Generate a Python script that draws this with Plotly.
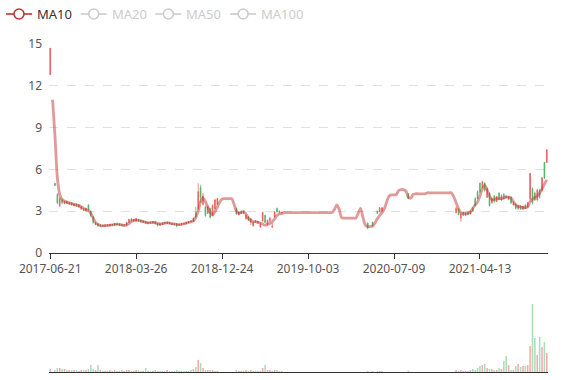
import pandas as pd
import plotly.graph_objects as go

# ---------------- data ----------------
tick_dates = ["2017-06-21", "2018-03-26", "2018-12-24", "2019-10-03", "2020-07-09", "2021-04-13"]

# category axis (trading dates); every tick date is a category
categories = []
for a, b in zip(tick_dates[:-1], tick_dates[1:]):
    categories += [d.strftime("%Y-%m-%d") for d in pd.date_range(a, b, periods=37)[:-1]]
_last = pd.Timestamp(tick_dates[-1])
categories += [(_last + pd.Timedelta(days=7.7) * k).strftime("%Y-%m-%d") for k in range(29)]

open_ = [
    12.8, None, 5.0, 4.2, 3.4, 3.8, 3.55, 3.7, 3.5, 3.6,
    3.4, 3.5, 3.3, 3.15, 3.2, 3.05, 3.45, 3.0, 2.6, 2.05,
    2.1, 1.95, 2.0, 1.92, 2.02, 1.95, 2.05, 2.0, 2.1, 2.0,
    2.05, 1.95, 2.0, 2.2, 2.45, 2.3, 2.3, 2.4, 2.35, 2.2,
    2.25, 2.12, 2.22, 2.15, 2.25, 2.12, 2.0, 2.05, 2.2, 2.12,
    2.2, 2.12, 2.05, 2.1, 2.0, 2.03, 2.12, 2.1, 2.18, 2.3,
    2.25, 2.9, 3.2, 4.7, 3.5, 3.3, 2.85, 3.2, 2.7, 3.2,
    3.5] + [None] * 7 + [
    3.2, 2.75, 3.0, 2.85, 2.45, 2.6, 2.2, 1.95, 2.3, 2.15,
    1.85, 2.3, 2.7, 2.05, 2.3, 1.85, 2.6, 3.2, 3.0, 2.88] + [None] * 35 + [
    2.15, None, 2.2, None, 3.0, 2.95, 3.0] + [None] * 10 + [4.25] + [None] * 19 + [
    2.9, 3.15, 2.5, 2.9, 2.7, 2.9, 2.8, 3.2, 3.9, 4.4,
    5.0, 4.7, 5.0, 4.0, 4.3, 3.6, 4.1, 3.7, 4.3, 3.8,
    4.2, 4.05, 3.85, 4.0, 3.45, 3.5, 3.2, 3.4, 3.15, 3.45,
    3.3, 3.9, 4.6, 4.3, 3.8, 4.5, 4.5, 6.5, 6.5]

high_ = [
    14.7, None, 5.0, 4.3, 4.0, 3.9, 3.75, 3.75, 3.65, 3.6,
    3.55, 3.55, 3.5, 3.35, 3.2, 3.25, 3.5, 3.05, 2.65, 2.2,
    2.1, 2.05, 2.02, 2.03, 2.05, 2.08, 2.08, 2.12, 2.12, 2.1,
    2.08, 2.05, 2.22, 2.45, 2.5, 2.45, 2.5, 2.42, 2.38, 2.32,
    2.28, 2.22, 2.25, 2.28, 2.27, 2.15, 2.12, 2.18, 2.22, 2.23,
    2.22, 2.14, 2.12, 2.12, 2.08, 2.12, 2.15, 2.22, 2.28, 2.32,
    2.55, 3.3, 5.0, 4.9, 4.3, 3.4, 3.4, 3.25, 3.5, 3.9,
    3.95] + [None] * 7 + [
    3.25, 3.0, 3.05, 3.05, 2.75, 2.62, 2.5, 2.25, 2.35, 2.3,
    2.2, 2.97, 2.75, 2.4, 2.6, 2.15, 3.0, 3.25, 3.05, 2.95] + [None] * 35 + [
    2.2, None, 2.22, None, 3.05, 3.28, 3.3] + [None] * 10 + [4.28] + [None] * 19 + [
    3.3, 3.2, 2.9, 2.95, 2.9, 2.95, 3.05, 3.3, 4.0, 4.5,
    5.05, 5.2, 5.1, 4.7, 4.35, 4.0, 4.15, 4.1, 4.35, 4.2,
    4.3, 4.1, 4.1, 4.05, 3.7, 3.55, 3.45, 3.45, 3.4, 3.5,
    3.65, 5.75, 4.7, 4.4, 4.6, 4.6, 5.45, 6.55, 7.45]

low_ = [
    12.8, None, 4.8, 3.5, 3.3, 3.5, 3.5, 3.5, 3.45, 3.4,
    3.35, 3.3, 3.25, 3.1, 3.0, 3.0, 3.05, 2.6, 2.1, 2.0,
    1.9, 1.9, 1.88, 1.9, 1.92, 1.93, 1.97, 1.98, 2.0, 1.98,
    1.95, 1.93, 1.98, 2.15, 2.25, 2.28, 2.25, 2.25, 2.2, 2.18,
    2.1, 2.1, 2.12, 2.13, 2.05, 1.9, 1.97, 2.03, 2.08, 2.1,
    2.08, 2.02, 2.03, 1.85, 1.98, 2.0, 2.05, 2.08, 2.15, 2.22,
    2.25, 2.5, 3.1, 3.6, 3.4, 2.6, 2.8, 2.5, 2.7, 3.1,
    3.45] + [None] * 7 + [
    2.75, 2.7, 2.8, 2.8, 2.4, 2.3, 2.0, 1.9, 2.15, 2.1,
    1.85, 2.25, 2.15, 2.0, 2.2, 1.82, 2.55, 2.9, 2.85, 2.85] + [None] * 35 + [
    1.7, None, 1.9, None, 2.8, 2.93, 2.98] + [None] * 10 + [3.88] + [None] * 19 + [
    2.85, 2.7, 2.25, 2.65, 2.65, 2.7, 2.75, 2.95, 3.35, 3.85,
    4.3, 4.65, 4.4, 3.95, 3.33, 3.55, 3.6, 3.65, 3.8, 3.75,
    3.85, 3.9, 3.8, 3.5, 3.4, 3.15, 3.1, 3.1, 3.1, 3.15,
    3.25, 3.8, 3.5, 3.75, 3.75, 3.9, 4.4, 5.3, 6.45]

close_ = [
    14.7, None, 4.85, 3.6, 3.9, 3.6, 3.7, 3.55, 3.6, 3.45,
    3.5, 3.35, 3.45, 3.3, 3.05, 3.2, 3.1, 2.7, 2.2, 2.15,
    1.95, 2.0, 1.92, 2.0, 1.95, 2.05, 2.0, 2.1, 2.02, 2.08,
    1.97, 2.02, 2.2, 2.4, 2.3, 2.4, 2.45, 2.3, 2.25, 2.3,
    2.15, 2.2, 2.15, 2.25, 2.1, 1.98, 2.1, 2.15, 2.12, 2.2,
    2.1, 2.05, 2.1, 1.95, 2.05, 2.1, 2.08, 2.2, 2.25, 2.25,
    2.5, 2.6, 4.4, 4.0, 4.1, 2.7, 3.3, 2.55, 3.4, 3.8,
    3.9] + [None] * 7 + [
    2.8, 2.95, 2.85, 3.0, 2.7, 2.35, 2.45, 2.2, 2.2, 2.25,
    2.05, 2.9, 2.2, 2.35, 2.5, 1.92, 2.95, 2.95, 2.9, 2.92] + [None] * 35 + [
    1.8, None, 1.95, None, 2.85, 3.25, 3.25] + [None] * 10 + [3.9] + [None] * 19 + [
    3.2, 2.75, 2.8, 2.7, 2.85, 2.75, 3.0, 3.0, 3.4, 3.9,
    4.4, 5.1, 4.5, 4.6, 3.4, 3.9, 3.7, 4.05, 3.85, 4.1,
    3.9, 3.95, 4.05, 3.6, 3.6, 3.2, 3.4, 3.15, 3.35, 3.2,
    3.6, 5.7, 3.6, 3.8, 4.5, 4.0, 5.4, 5.4, 7.4]

volume = [
    3, None, 2, 4, 4, 3, 3, 2, 2, 2,
    2, 2, 1, 2, 2, 2, 3, 7, 3, 2,
    7, 2, 1, 1, 1, 2, 1, 2, 1, 1,
    2, 1, 2, 2, 1, 1, 2, 2, 1, 1,
    4, 1, 1, 1, 2, 1, 1, 1, 1, 2,
    1, 1, 1, 2, 1, 1, 1, 1, 1, 2,
    3, 5, 12, 9, 4, 2, 2, 2, 2, 1,
    1] + [None] * 7 + [
    2, 1, 1, 1, 2, 1, 2, 1, 1, 1,
    1, 4, 7, 2, 2, 1, 2, 2, 1, 1] + [None] * 35 + [
    1, None, 1, None, 1, 1, 1] + [None] * 10 + [1.3] + [None] * 19 + [
    2, 1, 2, 1, 1, 1, 2, 3, 2, 4,
    6, 7, 8, 4, 3, 3, 2, 2, 4, 3,
    11, 16, 7, 2, 2, 6, 8, 5, 6, 6,
    7, 26, 68, 34, 17, 35, 25, 30, 19]

ma10 = [
    None, 11.0, 8.4, 5.4, 4.2, 3.85, 3.72, 3.65, 3.6, 3.55,
    3.5, 3.45, 3.4, 3.32, 3.2, 3.1, 3.05, 2.85, 2.5, 2.2,
    2.05, 1.97, 1.95, 1.96, 1.98, 2.0, 2.02, 2.05, 2.07, 2.05,
    2.02, 1.98, 2.0, 2.1, 2.25, 2.33, 2.37, 2.35, 2.3, 2.25,
    2.2, 2.16, 2.18, 2.2, 2.18, 2.12, 2.08, 2.1, 2.14, 2.17,
    2.15, 2.1, 2.08, 2.05, 2.04, 2.06, 2.1, 2.15, 2.2, 2.24,
    2.32, 2.55, 3.0, 3.7, 3.95, 3.7, 3.3, 2.9, 2.72, 2.95,
    3.3, 3.65, 3.88, 3.9, 3.9, 3.9, 3.9, 3.5, 3.0, 2.85,
    2.9, 2.97, 2.8, 2.5, 2.35, 2.25, 2.25, 2.2, 2.15, 2.08,
    2.0, 2.05, 2.12, 2.25, 2.45, 2.7, 2.8, 2.83, 2.9, 2.9,
    2.9, 2.9, 2.9, 2.9, 2.9, 2.9, 2.9, 2.9, 2.9, 2.9,
    2.9, 2.9, 2.9, 2.9, 2.9, 2.9, 2.9, 2.9, 2.9, 3.1,
    3.45, 3.15, 2.55, 2.5, 2.5, 2.5, 2.5, 2.5, 2.5, 2.85,
    3.2, 2.55, 2.0, 1.9, 1.9, 1.92, 2.15, 2.45, 2.7, 2.9,
    3.2, 3.7, 4.1, 4.17, 4.17, 4.2, 4.5, 4.55, 4.55, 4.45,
    4.0, 3.93, 4.2, 4.25, 4.25, 4.25, 4.25, 4.25, 4.32, 4.32,
    4.32, 4.32, 4.32, 4.32, 4.32, 4.32, 4.32, 4.32, 4.32, 4.05,
    3.6, 3.2, 2.9, 2.85, 2.85, 2.88, 2.95, 3.2, 3.45, 3.65,
    4.1, 4.6, 4.85, 4.55, 4.1, 3.82, 3.85, 3.9, 3.9, 3.9,
    3.95, 4.05, 4.0, 3.95, 3.7, 3.45, 3.35, 3.3, 3.26, 3.25,
    3.3, 3.7, 3.85, 4.0, 4.1, 4.3, 4.6, 4.95, 5.25]

legend_names = ["MA10", "MA20", "MA50", "MA100"]
legend_active = [True, False, False, False]

n = len(categories)
for arr in (open_, high_, low_, close_, volume, ma10):
    assert len(arr) == n, len(arr)

# ---------------- styling ----------------
UP = "#eb5454"
DOWN = "#47b262"
MA_COLOR = "#c23531"
FONT = "Noto Sans"
W, H = 577, 380
ML, MR, MT, MB = 49, 29, 44, 8
PW, PH = W - ML - MR, H - MT - MB


def px_x(p):
    return (p - ML) / PW


def px_y(p):
    return (H - MB - p) / PH


vol_colors = []
for o, c in zip(open_, close_):
    if o is None:
        vol_colors.append("rgba(0,0,0,0)")
    elif c >= o:
        vol_colors.append("rgba(235,84,84,0.5)")
    else:
        vol_colors.append("rgba(71,178,98,0.45)")

fig = go.Figure()

fig.add_trace(go.Candlestick(
    x=categories, open=open_, high=high_, low=low_, close=close_,
    increasing=dict(line=dict(color=UP, width=0.7), fillcolor=UP),
    decreasing=dict(line=dict(color=DOWN, width=0.7), fillcolor=DOWN),
    whiskerwidth=0, showlegend=False, xaxis="x", yaxis="y", hoverinfo="skip"))

fig.add_trace(go.Scatter(
    x=categories, y=ma10, mode="lines", name="MA10",
    line=dict(color="rgba(194,53,49,0.5)", width=2.8, shape="spline", smoothing=0.7),
    showlegend=False, xaxis="x", yaxis="y", hoverinfo="skip"))

fig.add_trace(go.Bar(
    x=categories, y=volume, marker=dict(color=vol_colors, line=dict(width=0)),
    showlegend=False, xaxis="x2", yaxis="y2", hoverinfo="skip"))

# ---------------- legend (drawn as shapes + text) ----------------
shapes = []
annotations = []
LEG_Y = 14
for i, (name, active) in enumerate(zip(legend_names, legend_active)):
    off = i * 74.7
    col = MA_COLOR if active else "#cccccc"
    txt_col = "#333333" if active else "#cccccc"
    cx = 19 + off
    yc = px_y(LEG_Y)
    shapes.append(dict(type="line", xref="paper", yref="paper",
                       x0=px_x(6 + off), x1=px_x(cx - 5), y0=yc, y1=yc,
                       line=dict(color=col, width=1.6)))
    shapes.append(dict(type="line", xref="paper", yref="paper",
                       x0=px_x(cx + 5), x1=px_x(32 + off), y0=yc, y1=yc,
                       line=dict(color=col, width=1.6)))
    shapes.append(dict(type="circle", xref="paper", yref="paper",
                       xsizemode="pixel", ysizemode="pixel",
                       xanchor=px_x(cx), yanchor=yc,
                       x0=-5, x1=5, y0=-5, y1=5,
                       fillcolor="white", line=dict(color=col, width=1.6)))
    annotations.append(dict(text=name, xref="paper", yref="paper",
                            x=px_x(35 + off), y=yc, xanchor="left", yanchor="middle",
                            showarrow=False,
                            font=dict(family=FONT, size=13, color=txt_col)))

fig.update_layout(
    width=W, height=H,
    margin=dict(l=ML, r=MR, t=MT, b=MB, autoexpand=False),
    paper_bgcolor="white", plot_bgcolor="white",
    font=dict(family=FONT, size=12, color="#555"),
    bargap=0.35,
    boxgap=0.55,
    showlegend=False,
    shapes=shapes,
    annotations=annotations,
    xaxis=dict(type="category", categoryorder="array", categoryarray=categories,
               range=[-0.5, n - 0.5], domain=[0, 1], anchor="y",
               showline=True, linecolor="#333", linewidth=1,
               ticks="outside", ticklen=5, tickcolor="#333",
               tickmode="array", tickvals=tick_dates, ticktext=tick_dates,
               tickfont=dict(size=12, color="#555"),
               showgrid=False, zeroline=False, rangeslider=dict(visible=False)),
    yaxis=dict(domain=[0.3628, 1.0], range=[0, 15], tick0=0, dtick=3, anchor="x",
               showgrid=True, gridcolor="#e0e0e0", griddash="dash", gridwidth=1,
               zeroline=False, showline=False, ticks="",
               ticklabelstandoff=6, tickfont=dict(size=12, color="#555")),
    xaxis2=dict(type="category", categoryorder="array", categoryarray=categories,
                matches="x", anchor="y2", domain=[0, 1],
                showline=True, linecolor="#333", linewidth=1,
                showticklabels=False, ticks="", showgrid=False, zeroline=False),
    yaxis2=dict(domain=[0, 0.2195], range=[0, 72], anchor="x2",
                showgrid=False, zeroline=False, showline=False,
                showticklabels=False, ticks=""),
)

fig.write_html("out.html")
